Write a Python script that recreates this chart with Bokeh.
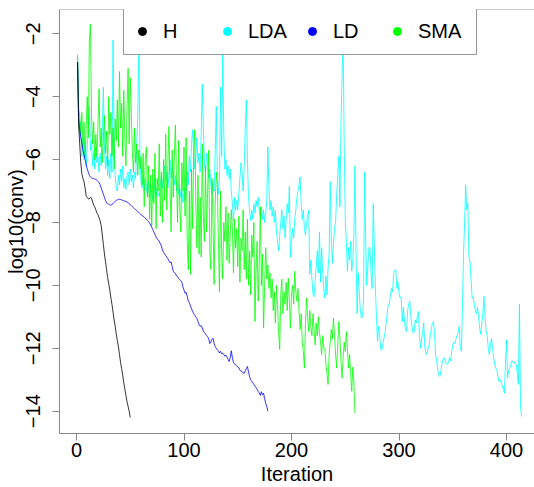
from bokeh.plotting import figure
from bokeh.models import Range1d, FixedTicker, Legend, LegendItem, Span
from bokeh.embed import file_html
from bokeh.resources import INLINE

# ---- data (log10 of convergence criterion per iteration) ----
H = [-2.9, -4.9, -5.5, -6.1, -6.45, -6.6, -6.7, -6.9, -7.15, -7.2,
     -7.25, -7.25, -7.2, -7.22, -7.35, -7.45, -7.5, -7.6, -7.7, -7.75,
     -7.85, -7.95, -8.1, -8.4, -8.7, -9.0, -9.25, -9.5, -9.75, -9.95,
     -10.15, -10.4, -10.6, -10.85, -11.1, -11.3, -11.55, -11.75, -11.95, -12.2,
     -12.45, -12.65, -12.85, -13.1, -13.3, -13.5, -13.7, -13.85, -14.0, -14.2]

LD = [-2.9, -4.7, -5.05, -5.3, -5.5, -5.7, -5.85, -6.0, -6.15, -6.3,
      -6.4, -6.5, -6.55, -6.58, -6.6, -6.6, -6.62, -6.63, -6.66, -6.7,
      -6.73, -6.8, -6.9, -7.0, -7.1, -7.2, -7.3, -7.38, -7.4, -7.42,
      -7.44, -7.45, -7.43, -7.4, -7.36, -7.33, -7.3, -7.28, -7.27, -7.26,
      -7.27, -7.28, -7.3, -7.31, -7.32, -7.33, -7.35, -7.37, -7.4, -7.43,
      -7.46, -7.5, -7.53, -7.56, -7.59, -7.62, -7.65, -7.68, -7.72, -7.75,
      -7.78, -7.8, -7.83, -7.86, -7.9, -7.93, -7.97, -8.02, -8.08, -8.15,
      -8.23, -8.3, -8.38, -8.46, -8.52, -8.55, -8.6, -8.68, -8.75, -8.88,
      -8.95, -9.0, -9.05, -9.1, -9.15, -9.22, -9.28, -9.25, -9.4, -9.55,
      -9.6, -9.62, -9.7, -9.72, -9.78, -9.82, -9.85, -9.9, -10.05, -10.15,
      -10.25, -10.22, -10.35, -10.5, -10.55, -10.65, -10.75, -10.82, -10.9, -10.95,
      -11.0, -11.05, -11.15, -11.25, -11.3, -11.28, -11.35, -11.45, -11.5, -11.55,
      -11.6, -11.63, -11.7, -11.85, -11.8, -11.72, -11.68, -11.85, -11.95, -12.0,
      -12.05, -12.08, -12.15, -12.1, -12.18, -12.15, -12.2, -12.25, -12.22, -12.28,
      -12.35, -12.42, -12.3, -12.08, -12.3, -12.45, -12.5, -12.52, -12.55, -12.6,
      -12.62, -12.7, -12.72, -12.75, -12.78, -12.8, -12.72, -12.65, -12.58, -12.75,
      -12.9, -13.0, -13.05, -13.1, -13.15, -13.2, -13.25, -13.3, -13.37, -13.42,
      -13.5, -13.38, -13.48, -13.43, -13.6, -13.75, -13.85, -14.0]

SMA = [-2.66, -4.4, -4.6, -5.2, -4.5, -5.6, -4.8, -5.9, -5.0, -4.0,
       -5.3, -2.2, -1.7, -4.6, -5.5, -4.8, -6.0, -5.2, -5.9, -4.9,
       -3.75, -5.6, -5.0, -6.1, -5.3, -4.6, -5.8, -5.1, -6.2, -4.0,
       -5.2, -4.5, -5.9, -5.0, -6.3, -4.7, -5.4, -4.1, -5.6, -3.2,
       -5.0, -4.2, -5.9, -3.8, -5.3, -6.2, -4.4, -3.1, -5.5, -3.4,
       -4.5, -5.8, -6.4, -5.0, -6.1, -5.5, -6.5, -5.7, -6.3, -5.9,
       -6.8, -5.8, -7.5, -6.0, -5.6, -7.2, -6.2, -7.9, -6.5, -8.1,
       -6.3, -7.4, -5.8, -8.2, -6.6, -7.0, -5.5, -7.8, -6.4, -8.0,
       -6.0, -7.3, -5.2, -7.6, -6.2, -4.95, -6.8, -8.3, -5.7, -7.2,
       -5.9, -4.9, -6.6, -8.0, -5.4, -7.5, -8.3, -6.1, -7.0, -5.6,
       -7.8, -5.3, -8.6, -9.5, -7.0, -9.65, -6.3, -8.2, -5.8, -5.05,
       -7.4, -8.8, -6.5, -9.0, -7.2, -9.1, -5.5, -7.8, -8.6, -6.2,
       -8.3, -7.0, -5.7, -8.9, -9.5, -6.6, -8.0, -9.97, -7.4, -6.4,
       -6.85, -8.6, -10.2, -7.0, -8.9, -9.8, -8.0, -8.6, -7.5, -9.2,
       -7.7, -9.3, -8.4, -7.6, -8.2, -9.6, -7.9, -8.8, -8.2, -9.4,
       -7.8, -9.9, -8.5, -8.9, -7.6, -9.5, -8.3, -9.8, -7.9, -10.0,
       -8.9, -10.3, -8.4, -9.1, -8.0, -11.15, -9.5, -8.6, -10.5, -9.3,
       -7.5, -10.0, -9.0, -11.36, -10.0, -8.8, -9.8, -9.35, -10.1, -9.6,
       -10.4, -9.8, -10.8, -10.2, -11.2, -10.0, -10.6, -11.5, -12.04, -10.3,
       -9.8, -10.9, -10.2, -10.6, -9.9, -10.8, -9.77, -10.5, -11.36, -10.3,
       -10.0, -10.6, -9.55, -10.2, -10.5, -10.1, -10.8, -11.4, -10.9, -11.8,
       -12.1, -12.63, -11.2, -10.4, -11.0, -11.47, -10.8, -11.3, -11.6, -10.9,
       -11.4, -11.9, -11.2, -11.6, -11.0, -11.5, -11.8, -12.2, -11.6, -12.0,
       -12.0, -12.5, -12.8, -13.15, -12.2, -11.8, -11.4, -11.7, -11.04, -11.6,
       -12.2, -12.63, -11.9, -11.15, -11.7, -12.4, -12.95, -12.3, -11.8, -12.1,
       -11.47, -12.0, -12.63, -12.2, -12.8, -13.37, -12.6, -13.1, -14.06]

LDA = [-2.75, -4.4, -5.2, -4.8, -5.9, -5.3, -6.0, -5.4, -6.2, -5.6,
       -5.0, -4.3, -5.7, -5.4, -6.2, -5.8, -6.3, -5.6, -6.1, -5.9,
       -6.4, -5.8, -6.2, -5.1, -3.7, -5.6, -6.3, -5.9, -6.5, -6.0,
       -6.6, -5.8, -6.4, -2.2, -5.5, -6.5, -6.9, -7.0, -6.5, -6.8,
       -6.3, -6.7, -6.2, -6.9, -6.6, -6.95, -6.5, -6.4, -6.8, -6.3,
       -6.7, -6.5, -6.9, -6.4, -6.6, -5.6, -4.6, -2.35, -5.8, -6.7,
       -6.9, -6.5, -7.0, -6.6, -6.9, -7.1, -6.7, -7.2, -6.8, -7.0,
       -7.3, -7.1, -6.6, -7.2, -6.9, -7.1, -7.17, -6.8, -6.5, -6.9,
       -6.6, -6.2, -6.7, -6.4, -6.9, -6.5, -6.0, -6.6, -6.3, -6.4,
       -6.8, -6.5, -7.0, -6.7, -7.1, -6.9, -7.2, -7.0, -7.37, -6.9,
       -7.3, -7.0, -6.4, -6.8, -5.9, -6.4, -5.5, -5.05, -5.8, -6.3,
       -5.9, -5.3, -6.1, -5.8, -6.4, -5.2, -3.6, -5.0, -6.1, -6.4,
       -5.8, -6.2, -6.6, -6.3, -6.8, -7.1, -6.7, -7.0, -5.8, -4.3,
       -6.5, -7.1, -6.6, -3.7, -5.9, -2.6, -5.2, -6.3, -6.0, -6.5,
       -6.2, -6.6, -6.3, -7.0, -7.4, -7.94, -7.2, -7.6, -7.3, -7.6,
       -7.1, -6.6, -6.1, -6.4, -7.0, -6.2, -5.0, -4.1, -6.0, -7.2,
       -7.6, -7.94, -7.6, -7.9, -7.4, -7.7, -7.3, -7.5, -7.2, -7.6,
       -7.8, -7.5, -7.9, -7.6, -8.0, -7.7, -7.3, -5.6, -6.95, -7.6,
       -7.3, -7.8, -7.5, -8.0, -7.6, -8.3, -8.6, -8.9, -8.4, -8.0,
       -7.6, -8.2, -7.8, -8.5, -7.9, -7.4, -7.7, -6.85, -9.1, -8.6,
       -8.2, -8.5, -7.9, -7.6, -7.2, -7.0, -6.8, -6.55, -7.4, -7.9,
       -7.6, -8.2, -8.4, -8.0, -7.8, -7.6, -9.65, -9.2, -9.8, -10.3,
       -10.36, -9.87, -9.4, -8.9, -9.6, -8.3, -9.9, -8.8, -9.6, -10.1,
       -10.4, -9.7, -10.3, -9.45, -9.0, -6.7, -8.5, -9.3, -8.7, -8.2,
       -8.0, -7.1, -6.5, -5.9, -7.5, -4.8, -3.4, -2.1, -5.5, -7.9,
       -8.6, -9.55, -8.8, -9.2, -8.6, -9.55, -9.2, -8.4, -6.2, -8.9,
       -10.9, -9.6, -10.2, -10.8, -11.04, -11.0, -10.5, -6.4, -8.6, -10.0,
       -9.4, -8.8, -8.8, -9.6, -10.1, -7.4, -8.7, -10.1, -11.0, -11.78,
       -11.3, -11.6, -12.04, -12.06, -11.85, -11.68, -11.5, -11.2, -10.9, -10.6,
       -10.6, -10.3, -10.09, -10.2, -9.62, -9.53, -9.5, -10.1, -9.9, -10.26,
       -10.4, -10.36, -11.15, -10.7, -11.1, -11.4, -11.47, -10.8, -10.6, -10.5,
       -11.0, -11.3, -11.5, -11.5, -11.1, -11.2, -11.0, -10.83, -11.6, -12.0,
       -11.7, -11.5, -11.2, -11.95, -12.2, -12.17, -12.0, -11.9, -11.6, -11.4,
       -11.2, -11.15, -11.5, -12.2, -12.38, -12.7, -12.86, -12.9, -12.7, -12.5,
       -12.33, -12.3, -12.4, -12.5, -12.5, -12.45, -12.3, -12.4, -12.1, -11.9,
       -11.8, -11.85, -11.7, -11.6, -11.5, -11.3, -12.0, -12.1, -10.7, -9.0,
       -8.0, -6.82, -7.6, -7.4, -9.1, -9.24, -9.8, -10.4, -10.36, -10.6,
       -10.8, -10.9, -10.7, -11.0, -11.36, -11.56, -11.2, -10.9, -10.35, -11.0,
       -11.47, -11.6, -12.0, -12.2, -11.9, -11.68, -12.0, -12.3, -12.5, -12.63,
       -12.7, -12.9, -13.05, -13.0, -13.1, -13.2, -13.3, -13.43, -12.5, -11.73,
       -12.95, -12.7, -12.63, -12.5, -12.4, -12.45, -12.42, -12.5, -12.52, -12.8,
       -13.15, -10.6, -13.85, -14.17]

series_names = ["H", "LDA", "LD", "SMA"]
series_colors = ["#000000", "#00FFFF", "#0000FF", "#00FF00"]
x_ticks = [0, 100, 200, 300, 400]
y_ticks = [-2, -4, -6, -8, -10, -12, -14]
x_title = "Iteration"
y_title = "log10(conv)"

FONT = "Liberation Sans"

p = figure(width=534, height=487, output_backend="svg", toolbar_location=None,
           x_range=Range1d(-15.8, 426), y_range=Range1d(-14.71, -1.227),
           min_border_left=59, min_border_right=0, min_border_top=9, min_border_bottom=54)
p.outline_line_color = None
p.xgrid.visible = False
p.ygrid.visible = False
p.background_fill_color = "white"
p.border_fill_color = "white"

data = {"H": H, "LDA": LDA, "LD": LD, "SMA": SMA}
for name in ["LDA", "SMA", "LD", "H"]:
    vals = data[name]
    col = series_colors[series_names.index(name)]
    p.line(list(range(1, len(vals) + 1)), vals, line_color=col, line_width=0.8)

# top border of the plot box
p.add_layout(Span(location=-1.227, dimension="width", line_color="#999999", line_width=1))

for ax in (p.xaxis[0], p.yaxis[0]):
    ax.axis_line_color = "#888888"
    ax.major_tick_line_color = "#888888"
    ax.major_tick_out = 7
    ax.major_tick_in = 0
    ax.minor_tick_line_color = None
    ax.major_label_text_font = FONT
    ax.major_label_text_font_size = "20px"
    ax.major_label_text_color = "black"
    ax.axis_label_text_font = FONT
    ax.axis_label_text_font_size = "20px"
    ax.axis_label_text_font_style = "normal"
    ax.axis_label_text_color = "black"

p.xaxis.ticker = FixedTicker(ticks=x_ticks)
p.yaxis.ticker = FixedTicker(ticks=y_ticks)
p.xaxis.axis_label = x_title
p.yaxis.axis_label = y_title
p.yaxis.major_label_orientation = "vertical"
p.xaxis.major_label_standoff = 2
p.yaxis.major_label_standoff = 12
p.xaxis.axis_label_standoff = 3
p.yaxis.axis_label_standoff = -3

# legend proxies (dots); a single NaN point so nothing is drawn in the plot area
nan = float("nan")
items = []
for name, col in zip(series_names, series_colors):
    r = p.scatter(x=[nan], y=[nan], marker="circle", size=9, fill_color=col, line_color=col)
    items.append(LegendItem(label=name, renderers=[r]))

legend = Legend(items=items, orientation="horizontal", location=(64, 378), margin=0,
                padding=8, spacing=4, glyph_width=20, glyph_height=30,
                label_standoff=11, label_width=50, label_height=30,
                label_text_font=FONT, label_text_font_size="20px", label_text_color="black",
                border_line_color="#333333", border_line_width=1,
                background_fill_color="white", background_fill_alpha=1.0)
p.add_layout(legend, "center")

open("out.html", "w").write(file_html(p, INLINE))
